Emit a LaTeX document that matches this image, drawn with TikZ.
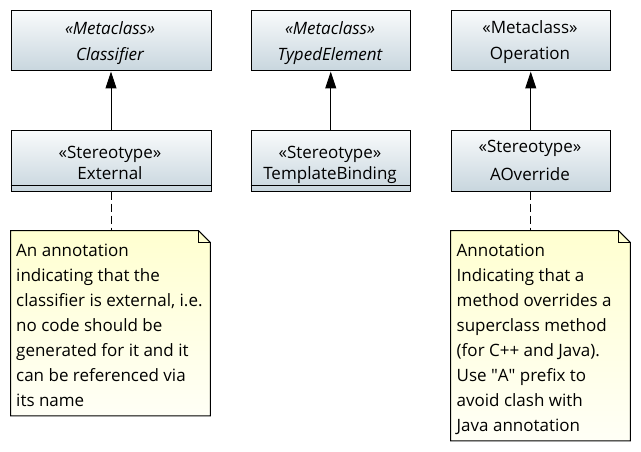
\documentclass[tikz,border=0pt]{standalone}
\usepackage{fontspec}
\setmainfont{Open Sans}
\usetikzlibrary{arrows.meta,shadings}
\definecolor{boxtop}{HTML}{F8FAFB}
\definecolor{boxbot}{HTML}{C8D6DE}
\definecolor{notetop}{HTML}{FFFFD0}
\definecolor{notebot}{HTML}{FFFFF6}
\definecolor{handle}{HTML}{D8D8D8}
\tikzset{
  umlbox/.style={draw=black, line width=1pt, rectangle, inner sep=0pt, anchor=north west,
    top color=boxtop, bottom color=boxbot, minimum width=200pt, minimum height=60pt},
  notearea/.style={rectangle, inner sep=0pt, anchor=north west, draw=none},
  txt/.style={inner sep=0pt, anchor=base, font=\fontsize{17}{25}\selectfont, text=black},
  itxt/.style={txt, font=\fontsize{17}{25}\selectfont\itshape},
  notetxt/.style={inner sep=0pt, anchor=north west, align=left, font=\fontsize{17}{25}\selectfont, text=black},
  gen/.style={line width=1pt, -{Triangle[length=17pt,width=11pt]}},
  anchorline/.style={line width=1pt, dash pattern=on 8pt off 4pt},
}
\begin{document}
\begin{tikzpicture}[x=1pt,y=-1pt]
\useasboundingbox (0,0) rectangle (641,452);
% top metaclass boxes
\node[umlbox] (classifier) at (10.5,10.5) {};
\node[itxt] (t1a) at (110,35) {«Metaclass»};
\node[itxt] (t1b) at (110,61) {Classifier};
\node[umlbox,minimum width=159.5pt] (typed) at (250.5,10.5) {};
\node[itxt] (t2a) at (330,35) {«Metaclass»};
\node[itxt] (t2b) at (330,61) {TypedElement};
\node[umlbox,minimum width=159.5pt] (operation) at (450.5,10.5) {};
\node[txt] (t3a) at (530,34) {«Metaclass»};
\node[txt] (t3b) at (530,60) {Operation};
% stereotype boxes
\fill[handle] (197,186.5) rectangle (212,192);
\node[umlbox] (external) at (10.5,130.5) {};
\draw[line width=1pt] (external.west |- 0,185.5) -- (external.east |- 0,185.5);
\node[txt] (s1a) at (110,158) {«Stereotype»};
\node[txt] (s1b) at (110,179) {External};
\fill[handle] (396,186.5) rectangle (411,192);
\node[umlbox,minimum width=159.5pt] (binding) at (250.5,130.5) {};
\draw[line width=1pt] (binding.west |- 0,185.5) -- (binding.east |- 0,185.5);
\node[txt] (s2a) at (330,158) {«Stereotype»};
\node[txt] (s2b) at (330,179) {TemplateBinding};
\node[umlbox,minimum width=159.5pt] (aoverride) at (450.5,130.5) {};
\node[txt] (s3a) at (530,153) {«Stereotype»};
\node[txt] (s3b) at (530,180) {AOverride};
% generalizations
\draw[gen] (external.north) -- (classifier.south);
\draw[gen] (binding.north) -- (typed.south);
\draw[gen] (aoverride.north) -- (operation.south);
% notes
\node[notearea,minimum width=199.5pt,minimum height=185pt] (note1) at (10.5,230.5) {};
\shade[top color=notetop,bottom color=notebot,draw=black,line width=1pt]
  (note1.north west) -- ([xshift=-12pt]note1.north east) -- ([yshift=-12pt]note1.north east)
  -- (note1.south east) -- (note1.south west) -- cycle;
\draw[line width=1pt] ([xshift=-12pt]note1.north east) -- ([xshift=-12pt,yshift=-12pt]note1.north east) -- ([yshift=-12pt]note1.north east);
\node[notetxt] (n1) at (16,244) {An annotation\\indicating that the\\classifier is external, i.e.\\no code should be\\generated for it and it\\can be referenced via\\its name};
\node[notearea,minimum width=179.5pt,minimum height=210pt] (note2) at (450.5,230.5) {};
\shade[top color=notetop,bottom color=notebot,draw=black,line width=1pt]
  (note2.north west) -- ([xshift=-12pt]note2.north east) -- ([yshift=-12pt]note2.north east)
  -- (note2.south east) -- (note2.south west) -- cycle;
\draw[line width=1pt] ([xshift=-12pt]note2.north east) -- ([xshift=-12pt,yshift=-12pt]note2.north east) -- ([yshift=-12pt]note2.north east);
\node[notetxt] (n2) at (456.5,244) {Annotation\\Indicating that a\\method overrides a\\superclass method\\(for C++ and Java).\\Use \textquotedbl A\textquotedbl{} prefix to\\avoid clash with\\Java annotation};
% anchors
\draw[anchorline] (external.south) -- (note1.north -| external.south);
\draw[anchorline] (aoverride.south) -- (note2.north -| aoverride.south);
\end{tikzpicture}
\end{document}
